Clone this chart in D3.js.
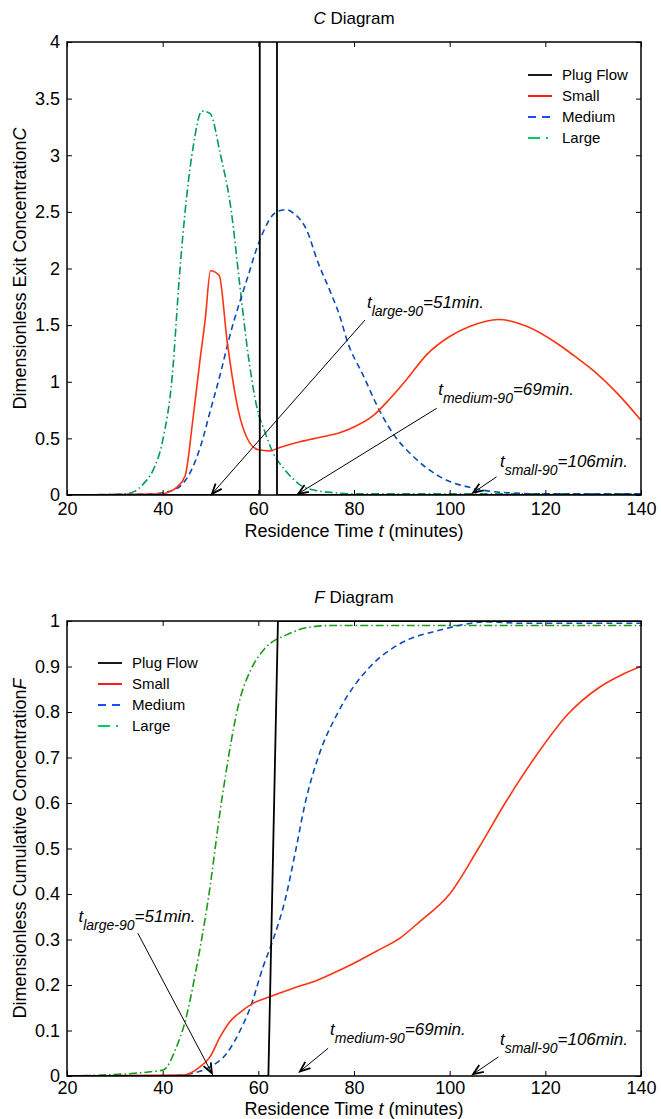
<!DOCTYPE html>
<html>
<head>
<meta charset="utf-8">
<script src="https://cdn.jsdelivr.net/npm/d3@7"></script>
<style>
  body { margin: 0; background: #fff; }
  svg { font-family: "Liberation Sans", Arial, sans-serif; }
</style>
</head>
<body>
<svg width="661" height="1119"></svg>
<script>
// ---- data ----
const xTicks = [20, 40, 60, 80, 100, 120, 140];
const cTicks = [0, 0.5, 1, 1.5, 2, 2.5, 3, 3.5, 4];
const fTicks = [0, 0.1, 0.2, 0.3, 0.4, 0.5, 0.6, 0.7, 0.8, 0.9, 1];
const seriesNames = ["Plug Flow", "Small", "Medium", "Large"];

// C diagram
const cPlugT = [20, 60.3, 60.3, 63.9, 63.9, 140];
const cPlugV = [0, 0, 30, 30, 0, 0];
const cSmallT = [20, 40, 41.5, 43, 44.7, 46.3, 47.8, 48.9, 50, 51.8, 53.5, 55.8, 57.8, 60, 62.4, 64.5, 68.7, 72.9, 77, 80, 84, 87.5, 91, 95.2, 100, 104.3, 110.2, 116.1, 122.4, 126, 130, 135, 140];
const cSmallV = [0, 0.01, 0.03, 0.07, 0.17, 0.66, 1.19, 1.55, 1.98, 1.94, 1.35, 0.75, 0.49, 0.4, 0.39, 0.42, 0.47, 0.51, 0.55, 0.6, 0.7, 0.85, 1.02, 1.24, 1.4, 1.49, 1.55, 1.49, 1.34, 1.23, 1.1, 0.9, 0.66];
const cMediumT = [20, 38, 40, 42, 44, 46, 48, 50, 52, 54, 57.6, 60.3, 63.8, 65.9, 67.3, 70.1, 72.5, 75, 77.1, 78.5, 82, 85.4, 88.2, 92.4, 98, 104.9, 111.9, 120, 140];
const cMediumV = [0, 0.01, 0.02, 0.04, 0.09, 0.22, 0.44, 0.75, 1.06, 1.4, 1.9, 2.25, 2.5, 2.52, 2.49, 2.34, 2.05, 1.8, 1.57, 1.37, 1.05, 0.74, 0.54, 0.34, 0.16, 0.06, 0.02, 0.01, 0.01];
const cLargeT = [20, 32, 34, 36, 38, 40, 42, 43.5, 45, 46.4, 48.2, 49.9, 52, 54.4, 56, 58, 60, 61, 63, 65.6, 68.7, 72, 76, 80, 140];
const cLargeV = [0, 0.01, 0.03, 0.1, 0.22, 0.48, 1.05, 1.93, 2.63, 3.08, 3.39, 3.37, 3.02, 2.49, 1.9, 1.2, 0.72, 0.6, 0.38, 0.22, 0.09, 0.04, 0.02, 0.01, 0.01];

// F diagram
const fPlugT = [20, 62.1, 64.1, 140];
const fPlugV = [0, 0, 1, 1];
const fSmallT = [20, 44.3, 47.8, 49.9, 52, 54.1, 56.2, 58.6, 62.4, 67.3, 72.2, 77.1, 81.3, 85, 89.6, 93.8, 100, 106, 111.6, 117.8, 124.7, 131.4, 136, 140];
const fSmallV = [0, 0.002, 0.02, 0.042, 0.086, 0.12, 0.14, 0.158, 0.174, 0.193, 0.21, 0.233, 0.255, 0.276, 0.303, 0.34, 0.4, 0.5, 0.6, 0.7, 0.795, 0.855, 0.882, 0.9];
const fMediumT = [20, 40, 44.3, 47, 49.9, 53.4, 56.2, 58.3, 61, 63.1, 65.6, 67.7, 69.8, 72.5, 76.7, 83.4, 89.6, 98, 108, 115, 140];
const fMediumV = [0, 0, 0.002, 0.008, 0.02, 0.05, 0.1, 0.15, 0.24, 0.3, 0.387, 0.49, 0.6, 0.7, 0.8, 0.9, 0.95, 0.98, 0.998, 0.995, 0.995];
const fLargeT = [20, 35.3, 38, 40.1, 42.9, 44.7, 47.1, 49.5, 52.4, 56.2, 58.3, 61.4, 66, 70, 75, 140];
const fLargeV = [0, 0.007, 0.01, 0.013, 0.064, 0.12, 0.24, 0.387, 0.61, 0.83, 0.89, 0.94, 0.97, 0.985, 0.99, 0.99];

// annotations: label subscript, value text, text anchor (t, y), arrow start (t, y), arrow tip (t, y)
const cNotes = [
  ["large-90", "=51min.", 82.7, 1.65, 82.3, 1.545, 50.3, 0.01],
  ["medium-90", "=69min.", 97.6, 0.883, 97.3, 0.766, 68.3, 0.01],
  ["small-90", "=106min.", 110.5, 0.25, 109.8, 0.16, 104.9, 0.02]
];
const fNotes = [
  ["large-90", "=51min.", 22.4, 0.339, 34.8, 0.314, 50.3, 0.006],
  ["medium-90", "=69min.", 75, 0.09, 74.6, 0.061, 68.7, 0.01],
  ["small-90", "=106min.", 110.5, 0.068, 110.2, 0.042, 104.9, 0.004]
];

// ---- drawing ----
const svg = d3.select("svg");

const x = d3.scaleLinear()
    .domain([20, 140])
    .range([67, 641]);

const styles = [
  { dash: null },
  { dash: null },
  { dash: "6,4" },
  { dash: "8,3,1.5,3" }
];

function drawPanel(opts) {
  const y = d3.scaleLinear()
      .domain(opts.yDomain)
      .range([opts.bottom, opts.top]);

  const g = svg.append("g");

  g.append("clipPath")
      .attr("id", opts.id)
    .append("rect")
      .attr("x", 67)
      .attr("y", opts.top)
      .attr("width", 641 - 67)
      .attr("height", opts.bottom - opts.top);

  const straight = d3.line()
      .x(d => x(d[0]))
      .y(d => y(d[1]));
  const smooth = d3.line()
      .x(d => x(d[0]))
      .y(d => y(d[1]))
      .curve(d3.curveMonotoneX);

  const series = opts.series.map(s => d3.zip(s[0], s[1]));

  // Large, Medium, Small first, plug flow on top
  [3, 2, 1, 0].forEach(i => {
    g.append("path")
        .attr("clip-path", `url(#${opts.id})`)
        .attr("d", (i == 0 ? straight : smooth)(series[i]))
        .attr("fill", "none")
        .attr("stroke", opts.colors[i])
        .attr("stroke-width", i == 0 ? 1.8 : 1.6)
        .attr("stroke-dasharray", styles[i].dash)
        .attr("stroke-linejoin", "round");
  });

  // axes with inward ticks
  const bottomAxis = d3.axisBottom(x).tickValues(xTicks).tickSizeInner(-5).tickSizeOuter(0).tickPadding(opts.xPad);
  const topAxis = d3.axisTop(x).tickValues(xTicks).tickSizeInner(-5).tickSizeOuter(0).tickFormat("");
  const leftAxis = d3.axisLeft(y).tickValues(opts.yTicks).tickSizeInner(-5).tickSizeOuter(0).tickPadding(7).tickFormat(d3.format(""));
  const rightAxis = d3.axisRight(y).tickValues(opts.yTicks).tickSizeInner(-5).tickSizeOuter(0).tickFormat("");

  [[bottomAxis, `translate(0,${opts.bottom})`],
   [topAxis, `translate(0,${opts.top})`],
   [leftAxis, "translate(67,0)"],
   [rightAxis, "translate(641,0)"]].forEach(([ax, tr]) => {
    const a = g.append("g")
        .attr("transform", tr)
        .call(ax);
    a.select(".domain").remove();
    a.selectAll("line").attr("stroke", "#000").attr("stroke-width", 1);
    a.selectAll("text")
        .attr("fill", "#000")
        .style("font-size", "18px")
        .style("font-family", "'Liberation Sans', Arial, sans-serif");
  });

  g.append("rect")
      .attr("x", 67)
      .attr("y", opts.top)
      .attr("width", 641 - 67)
      .attr("height", opts.bottom - opts.top)
      .attr("fill", "none")
      .attr("stroke", "#000")
      .attr("stroke-width", 1.5);

  // title
  const title = g.append("text")
      .attr("x", 354)
      .attr("y", opts.top - 18)
      .attr("text-anchor", "middle")
      .style("font-size", "17px");
  title.append("tspan").attr("font-style", "italic").text(opts.letter);
  title.append("tspan").text(" Diagram");

  // x title
  const xt = g.append("text")
      .attr("x", 354)
      .attr("y", opts.bottom + opts.xTitleGap)
      .attr("text-anchor", "middle")
      .style("font-size", "18px");
  xt.append("tspan").text("Residence Time ");
  xt.append("tspan").attr("font-style", "italic").text("t");
  xt.append("tspan").text(" (minutes)");

  // y title
  const yt = g.append("text")
      .attr("transform", `translate(26,${(opts.top + opts.bottom) / 2}) rotate(-90)`)
      .attr("text-anchor", "middle")
      .style("font-size", "18px");
  yt.append("tspan").text(opts.yLabel);
  yt.append("tspan").attr("font-style", "italic").text(opts.letter);

  // legend
  const lg = g.append("g");
  seriesNames.forEach((name, i) => {
    const ly = opts.legend[1] + i * 21;
    lg.append("line")
        .attr("x1", opts.legend[0])
        .attr("x2", opts.legend[0] + 24)
        .attr("y1", ly)
        .attr("y2", ly)
        .attr("stroke", opts.legendColors[i])
        .attr("stroke-width", 1.8)
        .attr("stroke-dasharray", i == 2 ? "8,6" : i == 3 ? "12,6,2,6" : null);
    lg.append("text")
        .attr("x", opts.legend[0] + 34)
        .attr("y", ly + 5)
        .style("font-size", "15px")
        .text(name);
  });

  // annotations
  opts.notes.forEach(n => {
    const [sub, val, tx, ty, ax0, ay0, ax1, ay1] = n;
    const t = g.append("text")
        .attr("x", x(tx))
        .attr("y", y(ty))
        .attr("font-style", "italic")
        .style("font-size", "17px");
    t.append("tspan").text("t");
    t.append("tspan").attr("dy", 8).style("font-size", "14px").text(sub);
    t.append("tspan").attr("dy", -8).text(val);

    const x0 = x(ax0), y0 = y(ay0), x1 = x(ax1), y1 = y(ay1);
    g.append("line")
        .attr("x1", x0).attr("y1", y0)
        .attr("x2", x1).attr("y2", y1)
        .attr("stroke", "#000")
        .attr("stroke-width", 1);
    const ang = Math.atan2(y1 - y0, x1 - x0);
    const head = 11, spread = 0.38;
    const p = [ang + Math.PI - spread, ang + Math.PI + spread].map(a => [x1 + head * Math.cos(a), y1 + head * Math.sin(a)]);
    g.append("path")
        .attr("d", `M${p[0][0]},${p[0][1]}L${x1},${y1}L${p[1][0]},${p[1][1]}`)
        .attr("fill", "none")
        .attr("stroke", "#000")
        .attr("stroke-width", 1.8);
  });
}

drawPanel({
  id: "clipC",
  letter: "C",
  top: 42,
  bottom: 495,
  xPad: 7,
  xTitleGap: 42,
  yDomain: [0, 4],
  yTicks: cTicks,
  yLabel: "Dimensionless Exit Concentration",
  series: [[cPlugT, cPlugV], [cSmallT, cSmallV], [cMediumT, cMediumV], [cLargeT, cLargeV]],
  colors: ["#000000", "#ff3311", "#0a4cb4", "#009966"],
  legendColors: ["#000000", "#ff0000", "#1a4dff", "#00cc66"],
  legend: [528, 75],
  notes: cNotes
});

drawPanel({
  id: "clipF",
  letter: "F",
  top: 621,
  bottom: 1076,
  xPad: 5,
  xTitleGap: 39,
  yDomain: [0, 1],
  yTicks: fTicks,
  yLabel: "Dimensionless Cumulative Concentration",
  series: [[fPlugT, fPlugV], [fSmallT, fSmallV], [fMediumT, fMediumV], [fLargeT, fLargeV]],
  colors: ["#000000", "#ff3311", "#0a4cb4", "#1a991a"],
  legendColors: ["#000000", "#ff0000", "#1a4dff", "#00cc66"],
  legend: [98, 663],
  notes: fNotes
});
</script>
</body>
</html>
